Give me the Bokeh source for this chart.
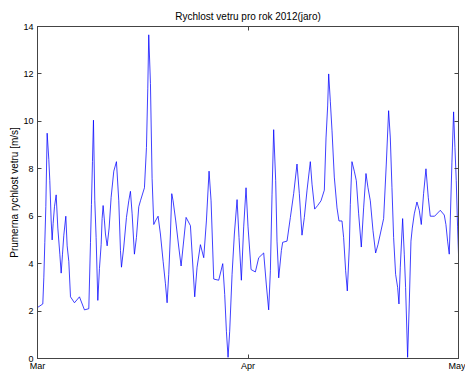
from bokeh.plotting import figure
from bokeh.models import Range1d, FixedTicker, LinearAxis
from bokeh.embed import file_html
from bokeh.resources import INLINE

TITLE = "Rychlost vetru pro rok 2012(jaro)"
Y_LABEL = "Prumerna rychlost vetru [m/s]"
TICK_DAYS = [0, 46, 92]
TICK_LABELS = ["Mar", "Apr", "May"]
Y_TICKS = [0, 2, 4, 6, 8, 10, 12, 14]

# days since 1 March
days = [
    0.0, 1.16, 1.38, 1.60, 1.82, 2.11, 2.47, 2.69, 2.99, 3.20, 3.42, 3.71, 4.08, 4.44,
    4.88, 5.17, 5.46, 5.75, 6.19, 6.48, 6.84, 7.21, 8.08, 9.17, 10.26, 11.21, 11.58,
    11.79, 12.01, 12.23, 12.52, 12.81, 13.18, 13.54, 13.91, 14.12, 14.34, 14.63, 14.85,
    15.22, 15.65, 16.09, 16.67, 17.25, 17.76, 18.13, 18.35, 18.85, 19.44, 19.95, 20.31,
    20.68, 21.18, 21.62, 22.13, 22.50, 23.37, 23.81, 24.10, 24.31, 24.68, 25.04, 25.41,
    25.77, 26.35, 26.86, 27.45, 27.96, 28.32, 28.68, 29.05, 29.34, 29.63, 30.21, 30.87,
    31.38, 32.47, 33.42, 34.36, 34.87, 35.60, 36.33, 36.91, 37.49, 37.93, 38.51, 39.60,
    40.48, 40.91, 41.28, 41.64, 42.00, 42.52, 43.02, 43.61, 44.04, 44.55, 45.06, 45.57,
    46.01, 46.67, 47.61, 48.34, 49.43, 50.01, 50.52, 50.89, 51.25, 51.61, 52.05, 52.34,
    52.71, 53.29, 53.58, 54.53, 55.26, 55.98, 56.71, 57.22, 57.80, 58.31, 58.90, 59.62,
    59.99, 60.57, 61.22, 61.95, 62.68, 63.05, 63.41, 63.63, 63.99, 64.36, 64.86, 65.45,
    65.88, 66.54, 66.90, 67.34, 67.70, 68.14, 68.36, 68.72, 69.23, 69.67, 70.18, 70.76,
    71.27, 71.78, 72.22, 72.73, 73.31, 73.89, 74.40, 74.91, 75.64, 76.22, 76.73, 77.10,
    77.46, 77.82, 78.26, 78.70, 78.99, 79.28, 79.79, 80.15, 80.44, 80.88, 81.24, 81.61,
    81.90, 82.34, 82.92, 83.43, 83.87, 84.37, 84.89, 85.39, 85.83, 86.78, 88.02, 88.89,
    89.25, 89.62, 89.98, 90.20, 90.56, 90.93, 91.22, 91.51, 91.80, 92.0,
]
speed = [
    2.15, 2.3, 3.4, 4.9, 6.4, 9.5, 8.4, 7.5, 5.8, 5.0, 5.7, 6.4, 6.9, 5.5,
    4.4, 3.6, 4.4, 5.2, 6.0, 4.75, 4.1, 2.6, 2.35, 2.6, 2.05, 2.1, 4.9,
    6.5, 8.3, 10.05, 6.65, 5.1, 2.45, 3.8, 4.8, 5.9, 6.45, 5.8, 5.25,
    4.75, 5.5, 6.8, 7.9, 8.3, 6.65, 4.55, 3.85, 4.7, 5.95, 6.65, 7.05,
    6.1, 4.4, 5.1, 6.4, 6.65, 7.2, 8.9, 11.4, 13.65, 11.6, 7.6, 5.65,
    5.8, 6.0, 5.25, 4.1, 3.15, 2.35, 3.55, 5.25, 6.95, 6.65, 5.8, 4.7,
    3.9, 5.95, 5.6, 2.6, 3.85, 4.8, 4.25, 5.8, 7.9, 6.65, 3.35, 3.3,
    4.0, 2.7, 1.15, 0.05, 1.15, 3.55, 5.25, 6.7, 5.1, 3.3, 5.55, 7.2,
    5.55, 3.75, 3.65, 4.25, 4.45, 3.1, 2.05, 3.7, 6.9, 9.65, 7.5, 4.95,
    3.4, 4.55, 4.9, 4.95, 5.95, 6.95, 8.2, 6.95, 5.2, 5.95, 7.1, 8.3,
    7.35, 6.3, 6.45, 6.65, 7.1, 9.3, 10.65, 12.0, 10.85, 9.6, 7.65, 6.35,
    5.8, 5.8, 5.1, 3.7, 2.85, 4.7, 6.5, 8.3, 7.9, 7.5, 6.1, 4.7,
    6.35, 7.8, 7.2, 6.65, 5.4, 4.45, 4.8, 5.25, 5.9, 8.2, 10.45, 9.3,
    7.2, 5.1, 3.55, 3.0, 2.3, 3.85, 5.9, 4.4, 3.0, 0.05, 2.3, 4.95,
    5.5, 6.1, 6.6, 6.25, 5.65, 6.95, 8.0, 6.8, 6.0, 6.0, 6.25, 6.05,
    5.65, 4.95, 4.4, 5.8, 8.25, 10.4, 8.9, 7.5, 5.55, 4.4,
]

FONT = "Liberation Sans"
AX_COLOR = "#444444"

p = figure(width=465, height=375, output_backend="svg", toolbar_location=None,
           x_range=Range1d(0, 92), y_range=Range1d(0, 14),
           min_border_left=37, min_border_right=7, min_border_top=26, min_border_bottom=17,
           title=TITLE)
p.title.align = "center"
p.title.text_font = FONT
p.title.text_font_size = "10px"
p.title.text_font_style = "normal"
p.title.text_color = "#000000"

p.line(days, speed, line_color="#0000ff", line_width=0.75)

p.grid.visible = False
p.outline_line_color = AX_COLOR
p.outline_line_width = 1
p.background_fill_color = "white"
p.border_fill_color = "white"

xax = p.xaxis[0]
xax.ticker = FixedTicker(ticks=TICK_DAYS)
xax.major_label_overrides = {t: l for t, l in zip(TICK_DAYS, TICK_LABELS)}
yax = p.yaxis[0]
yax.ticker = FixedTicker(ticks=Y_TICKS)
yax.axis_label = Y_LABEL

for ax in (xax, yax):
    ax.axis_line_color = AX_COLOR
    ax.major_tick_line_color = AX_COLOR
    ax.major_tick_in = 4
    ax.major_tick_out = 0
    ax.minor_tick_line_color = None
    ax.major_label_text_font = FONT
    ax.major_label_text_font_size = "9px"
    ax.major_label_text_color = "#000000"
    ax.axis_label_text_font = FONT
    ax.axis_label_text_font_size = "10px"
    ax.axis_label_text_font_style = "normal"
    ax.axis_label_text_color = "#000000"
xax.major_label_standoff = 2
yax.major_label_standoff = 4
yax.axis_label_standoff = 0

top = LinearAxis(ticker=FixedTicker(ticks=TICK_DAYS),
                 major_label_overrides={t: "" for t in TICK_DAYS},
                 axis_line_color=AX_COLOR, major_tick_line_color=AX_COLOR,
                 major_tick_in=4, major_tick_out=0, minor_tick_line_color=None,
                 major_label_standoff=0)
right = LinearAxis(ticker=FixedTicker(ticks=Y_TICKS),
                   major_label_overrides={t: "" for t in Y_TICKS},
                   axis_line_color=AX_COLOR, major_tick_line_color=AX_COLOR,
                   major_tick_in=4, major_tick_out=0, minor_tick_line_color=None,
                   major_label_standoff=0)
p.add_layout(top, "above")
p.add_layout(right, "right")

open("out.html", "w").write(file_html(p, INLINE))
